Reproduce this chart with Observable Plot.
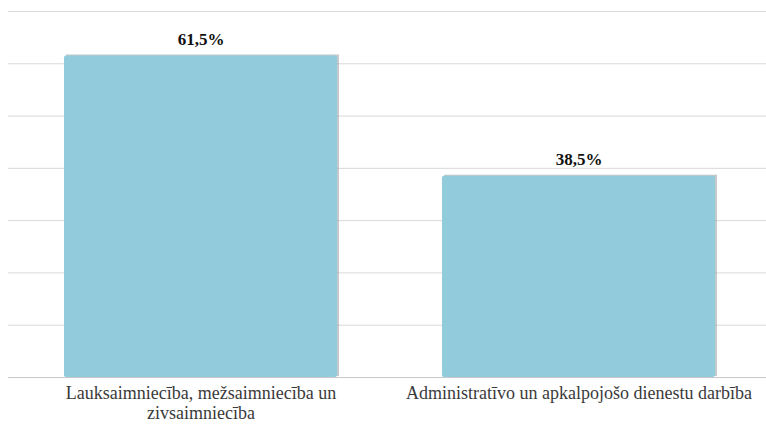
<!DOCTYPE html>
<html>
<head>
<meta charset="utf-8">
<script src="https://cdn.jsdelivr.net/npm/d3@7"></script>
<script src="https://cdn.jsdelivr.net/npm/@observablehq/plot@0.6"></script>
<style>
  html, body { margin: 0; padding: 0; background: #fff; }
  #chart svg { display: block; }
</style>
</head>
<body>
<div id="chart"></div>
<script>
const categories = ["agri", "admin"];
const tickLabels = [
  "Lauksaimniecība, mežsaimniecība un\nzivsaimniecība",
  "Administratīvo un apkalpojošo dienestu darbība"
];
const values = [61.5, 38.5];
const valueLabels = ["61,5%", "38,5%"];
const gridTicks = [10, 20, 30, 40, 50, 60, 70];

const data = categories.map((c, i) => ({cat: c, value: values[i], label: valueLabels[i]}));
const labelOf = new Map(categories.map((c, i) => [c, tickLabels[i]]));
const serif = "Liberation Serif";

const chart = Plot.plot({
  width: 766,
  height: 426,
  marginLeft: 8,
  marginRight: 0,
  marginTop: 11,
  marginBottom: 49,
  style: {background: "#fff", fontFamily: serif},
  x: {domain: categories, range: [63, 716], paddingInner: 0.277, paddingOuter: 0, label: null},
  y: {domain: [0, 70], axis: null},
  marks: [
    Plot.ruleY(gridTicks, {stroke: "#d9d9d9", strokeWidth: 1}),
    Plot.barY(data, {x: "cat", y: "value", fill: "#8a9599", fillOpacity: 0.5, dx: 2, dy: -1}),
    Plot.barY(data, {x: "cat", y: "value", fill: "#92cbdc", rx: 2}),
    Plot.ruleY([0], {stroke: "#c8c8c8", strokeWidth: 1}),
    Plot.text(data, {x: "cat", y: "value", text: "label", dy: -11, lineAnchor: "bottom",
      fontWeight: "bold", fontSize: 17, fill: "#111", fontFamily: serif}),
    Plot.axisX({tickSize: 0, tickPadding: 8, fontSize: 18, fill: "#3a3a3a", fontFamily: serif,
      label: null, tickFormat: d => labelOf.get(d), lineHeight: 1.08})
  ]
});
document.getElementById("chart").appendChild(chart);
</script>
</body>
</html>
